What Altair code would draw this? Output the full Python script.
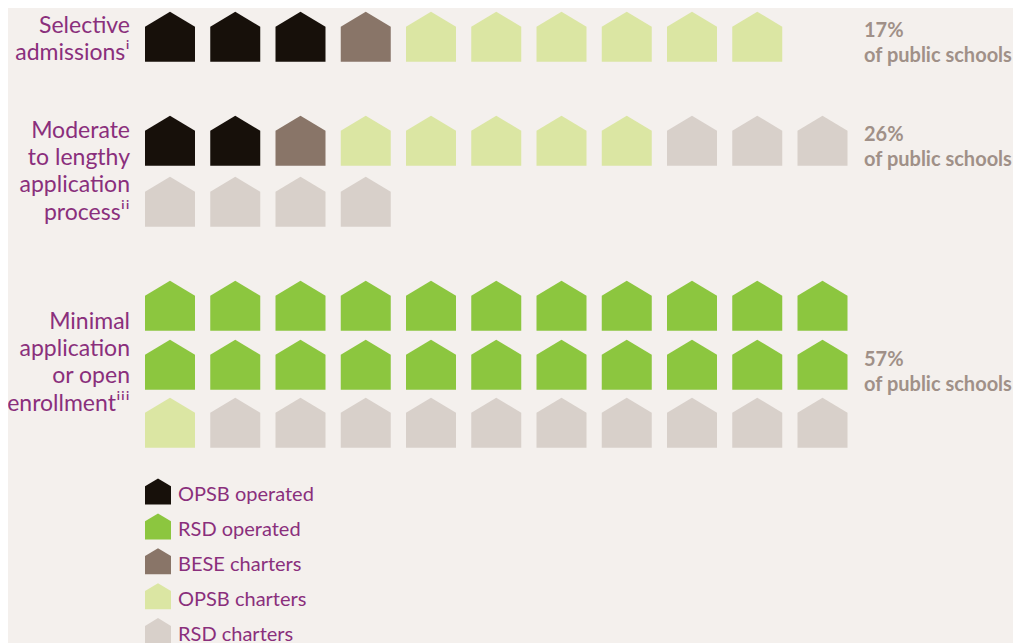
import altair as alt
import pandas as pd

CATS = ["OPSB operated", "RSD operated", "BESE charters", "OPSB charters", "RSD charters"]
COLORS = ["#17100a", "#8cc63f", "#897568", "#dbe6a3", "#d8d0ca"]
HOUSE = "M0,-1L1,-0.4L1,1L-1,1L-1,-0.4Z"
HOUSE_KEY = "M0,-1.27L1,-0.67L1,0.73L-1,0.73L-1,-0.67Z"
BG = "#f4f0ed"

O, R, B, P, C = CATS
row_a = [O, O, O, B, P, P, P, P, P, P]
row_b = [O, O, B, P, P, P, P, P, C, C, C]
row_c = [C, C, C, C]
row_d = [R] * 11
row_e = [R] * 11
row_f = [P] + [C] * 10
rows = [row_a, row_b, row_c, row_d, row_e, row_f]
row_ids = [0, 1, 2, 3, 4, 5]
row_px = [28.7, 132.7, 193.7, 297.7, 356.7, 414.7]

left_labels = ["Selective\nadmissionsⁱ", "Moderate\nto lengthy\napplication\nprocessⁱⁱ",
               "Minimal\napplication\nor open\nenrollmentⁱⁱⁱ"]
left_rows = [0, 2, 4]
left_dy = [-11, -71, -43]
pcts = ["17%\nof public schools", "26%\nof public schools", "57%\nof public schools"]
right_rows = [0, 1, 4]
right_dy = [-6, -6, -5]

df = pd.DataFrame([
    {"col": i, "row": rid, "type": t}
    for rid, r in zip(row_ids, rows) for i, t in enumerate(r)
])

x_s = alt.Scale(domain=[0, 10], range=[162, 814.5])
y_s = alt.Scale(domain=row_ids, range=row_px)
y_enc = alt.Y("row:Q", scale=y_s, axis=None)

houses = alt.Chart(df).mark_point(shape=HOUSE, filled=True, opacity=1, size=2500, strokeWidth=0).encode(
    x=alt.X("col:Q", scale=x_s, axis=None),
    y=y_enc,
    color=alt.Color("type:N", scale=alt.Scale(domain=CATS, range=COLORS), legend=alt.Legend(
        title=None, orient="none", legendX=137, legendY=474, padding=0,
        symbolType=HOUSE_KEY, symbolSize=676, symbolStrokeWidth=0, rowPadding=7.9,
        labelFont="Lato", labelFontSize=20, labelColor="#8a2f7c", labelOffset=7, labelLimit=300,
    )),
)

layers = [houses]
for t, r, dy in zip(left_labels, left_rows, left_dy):
    layers.append(alt.Chart(pd.DataFrame({"t": [t], "row": [r]})).mark_text(
        align="right", baseline="middle", font="Lato", fontSize=23, color="#8a2f7c",
        lineBreak="\n", lineHeight=27.4, dy=dy,
    ).encode(x=alt.value(122), y=y_enc, text="t:N"))
for t, r, dy in zip(pcts, right_rows, right_dy):
    layers.append(alt.Chart(pd.DataFrame({"t": [t], "row": [r]})).mark_text(
        align="left", baseline="middle", font="Lato", fontWeight="bold", fontSize=20, color="#a09088",
        lineBreak="\n", lineHeight=25.5, dy=dy,
    ).encode(x=alt.value(856), y=y_enc, text="t:N"))

chart = alt.layer(*layers).properties(
    width=1005, height=635, padding=0, autosize="none", background=BG,
).configure_view(stroke=None)

chart.save("out.html", embed_options={"renderer": "svg", "actions": False})
